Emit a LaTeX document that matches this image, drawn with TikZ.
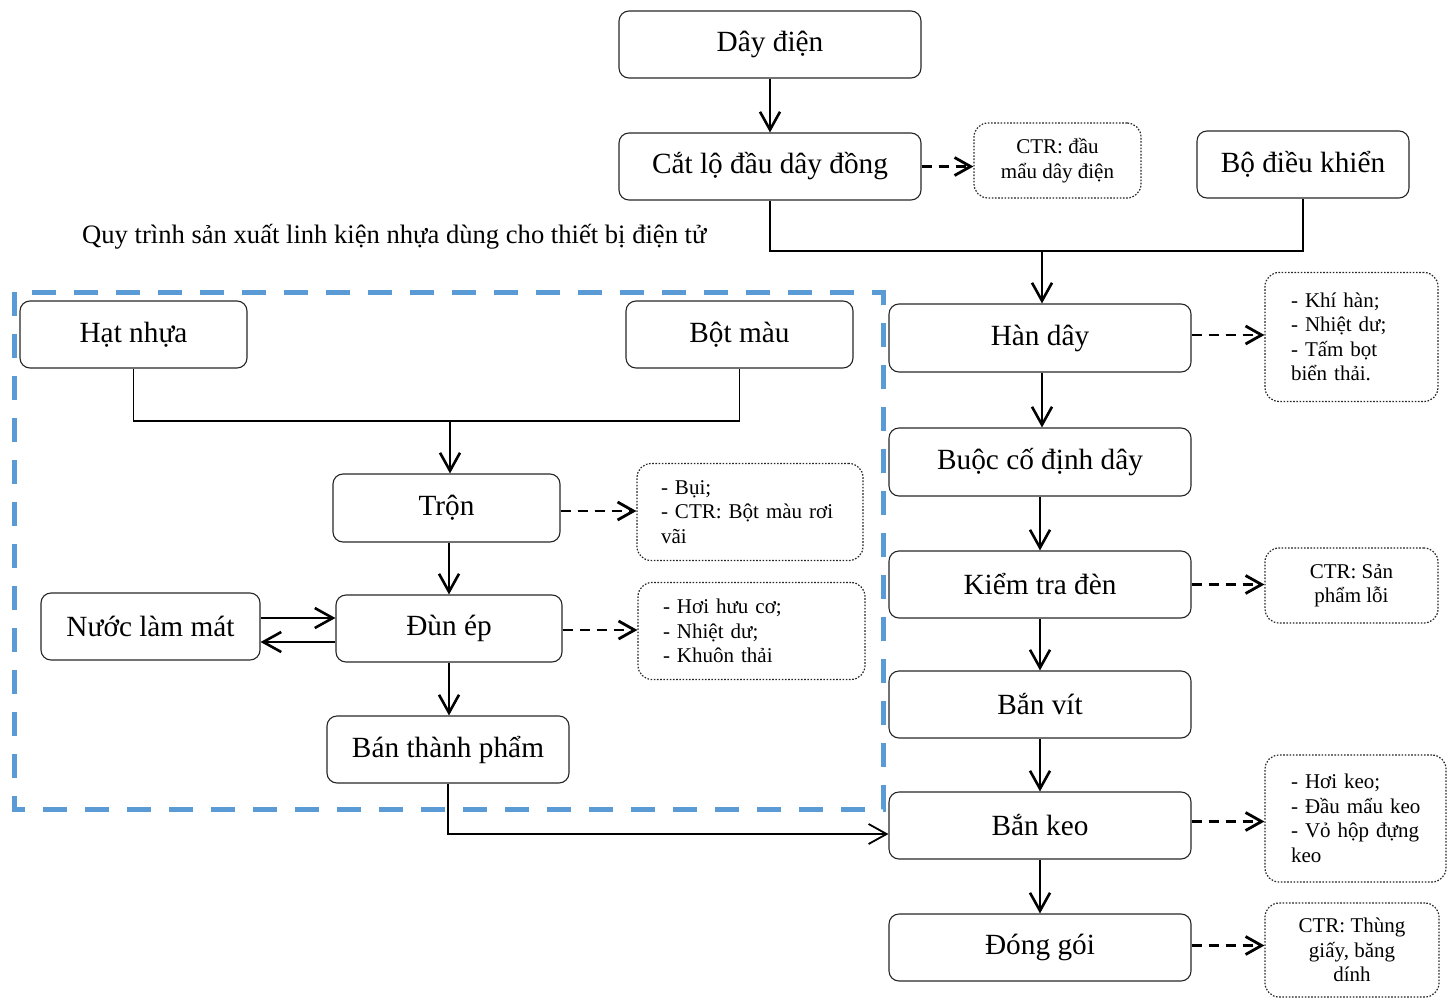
\documentclass[tikz,border=0pt]{standalone}
\usepackage{fontspec}
\setmainfont{Liberation Serif}
\usetikzlibrary{arrows.meta}
\definecolor{bluedash}{RGB}{91,155,213}
\begin{document}
\begin{tikzpicture}[x=1pt,y=-1pt,
  proc/.style={draw=black!85,line width=1.1pt,rounded corners=10pt,inner sep=0pt,
    font=\fontsize{29.3}{33}\selectfont},
  note/.style={draw=black!85,line width=1.2pt,dash pattern=on 1.6pt off 1.6pt,rounded corners=14pt,inner ysep=0pt,
    font=\fontsize{21}{24.5}\selectfont},
  arr/.style={line width=2.6pt,-{Straight Barb[length=18pt,width=20pt]}},
  darr/.style={line width=2.8pt,dash pattern=on 10pt off 7pt,-{Straight Barb[length=16pt,width=18pt]}},
  elbow/.style={line width=1.3pt}]
\useasboundingbox (0,0) rectangle (1451,998);
% blue dashed frame
\draw[bluedash,line width=5pt,dash pattern=on 24pt off 18pt] (14,292) rectangle (883,809);
% title
\node[font=\fontsize{26.6}{30}\selectfont,anchor=west,inner sep=0pt] (title) at (82,237) {Quy trình sản xuất linh kiện nhựa dùng cho thiết bị điện tử};
% top / right column
\node[proc,minimum width=302pt,minimum height=67pt] (day) at (770,44.5) {Dây điện};
\node[proc,minimum width=302pt,minimum height=67pt] (cat) at (770,166.5) {Cắt lộ đầu dây đồng};
\node[note,align=center,minimum width=167pt,minimum height=75pt] (n0) at (1057.5,160.5) {CTR: đầu\\mẩu dây điện};
\node[proc,minimum width=212pt,minimum height=67pt] (bdk) at (1303,164.5) {Bộ điều khiển};
\node[proc,minimum width=302pt,minimum height=68pt] (han) at (1040,338) {Hàn dây};
\node[proc,minimum width=302pt,minimum height=68pt] (buoc) at (1040,462) {Buộc cố định dây};
\node[proc,minimum width=302pt,minimum height=67pt] (kt) at (1040,584.5) {Kiểm tra đèn};
\node[proc,minimum width=302pt,minimum height=67pt] (vit) at (1040,704.5) {Bắn vít};
\node[proc,minimum width=302pt,minimum height=67pt] (keo) at (1040,825.5) {Bắn keo};
\node[proc,minimum width=302pt,minimum height=67pt] (dong) at (1040,947.5) {Đóng gói};
\node[note,align=left,inner xsep=26pt,text width=121pt,minimum height=129pt] (n1) at (1351.5,337) {- Khí hàn;\\- Nhiệt dư;\\- Tấm bọt\\biển thải.};
\node[note,align=center,minimum width=173pt,minimum height=75pt] (n2) at (1351.5,585.5) {CTR: Sản\\phẩm lỗi};
\node[note,align=left,inner xsep=26pt,text width=129pt,minimum height=127pt] (n3) at (1355.5,818.5) {- Hơi keo;\\\mbox{- Đầu mẩu keo}\\\mbox{- Vỏ hộp đựng}\\keo};
\node[note,align=center,minimum width=174pt,minimum height=94pt] (n4) at (1352,950) {CTR: Thùng\\giấy, băng\\dính};
% left part
\node[proc,minimum width=227pt,minimum height=67pt] (hat) at (133.5,334.5) {Hạt nhựa};
\node[proc,minimum width=227pt,minimum height=67pt] (bot) at (739.5,334.5) {Bột màu};
\node[proc,minimum width=227pt,minimum height=68pt] (tron) at (446.5,508) {Trộn};
\node[proc,minimum width=226pt,minimum height=67pt] (dun) at (449,628.5) {Đùn ép};
\node[proc,minimum width=219pt,minimum height=67pt] (nuoc) at (150.5,626.5) {Nước làm mát};
\node[proc,minimum width=242pt,minimum height=67pt] (btp) at (448,749.5) {Bán thành phẩm};
\node[note,align=left,inner xsep=24pt,text width=178pt,minimum height=97pt] (b1) at (750,512) {- Bụi;\\- CTR: Bột màu rơi\\vãi};
\node[note,align=left,inner xsep=25pt,text width=177pt,minimum height=97pt] (b2) at (751.5,631) {- Hơi hưu cơ;\\- Nhiệt dư;\\- Khuôn thải};
% junctions
\coordinate (j1) at (1042,251);
\coordinate (j2) at (450,421);
% connectors
\draw[arr] (day) -- (cat);
\draw[darr] (cat.east) -- (cat.east -| n0.west);
\draw[elbow] (cat.south) |- (j1) -| (bdk.south);
\draw[arr] (j1) -- (j1 |- han.north);
\draw[arr] ([xshift=2pt]han.south) -- ([xshift=2pt]buoc.north);
\draw[arr] (buoc) -- (kt);
\draw[arr] (kt) -- (vit);
\draw[arr] (vit) -- (keo);
\draw[arr] (keo) -- (dong);
\draw[darr] ([yshift=3pt]han.east) -- ([yshift=3pt]han.east -| n1.west);
\draw[darr] (kt.east) -- (kt.east -| n2.west);
\draw[darr] ([yshift=4pt]keo.east) -- ([yshift=4pt]keo.east -| n3.west);
\draw[darr] ([yshift=2pt]dong.east) -- ([yshift=2pt]dong.east -| n4.west);
\draw[elbow] (hat.south) |- (j2) -| (bot.south);
\draw[arr] (j2) -- (j2 |- tron.north);
\draw[darr] ([yshift=-3pt]tron.east) -- ([yshift=-3pt]tron.east -| b1.west);
\draw[arr] (tron.south -| dun.north) -- (dun.north);
\draw[darr] ([yshift=-1.5pt]dun.east) -- ([yshift=-1.5pt]dun.east -| b2.west);
\draw[arr] ([yshift=8.5pt]nuoc.east) -- ([yshift=8.5pt]nuoc.east -| dun.west);
\draw[arr] ([yshift=-13.5pt]dun.west) -- ([yshift=-13.5pt]dun.west -| nuoc.east);
\draw[arr] (dun.south) -- (dun.south |- btp.north);
\draw[line width=1.8pt,-{Straight Barb[length=18pt,width=20pt]}] (btp.south) |- ([yshift=-8.5pt]keo.west);
\end{tikzpicture}
\end{document}
